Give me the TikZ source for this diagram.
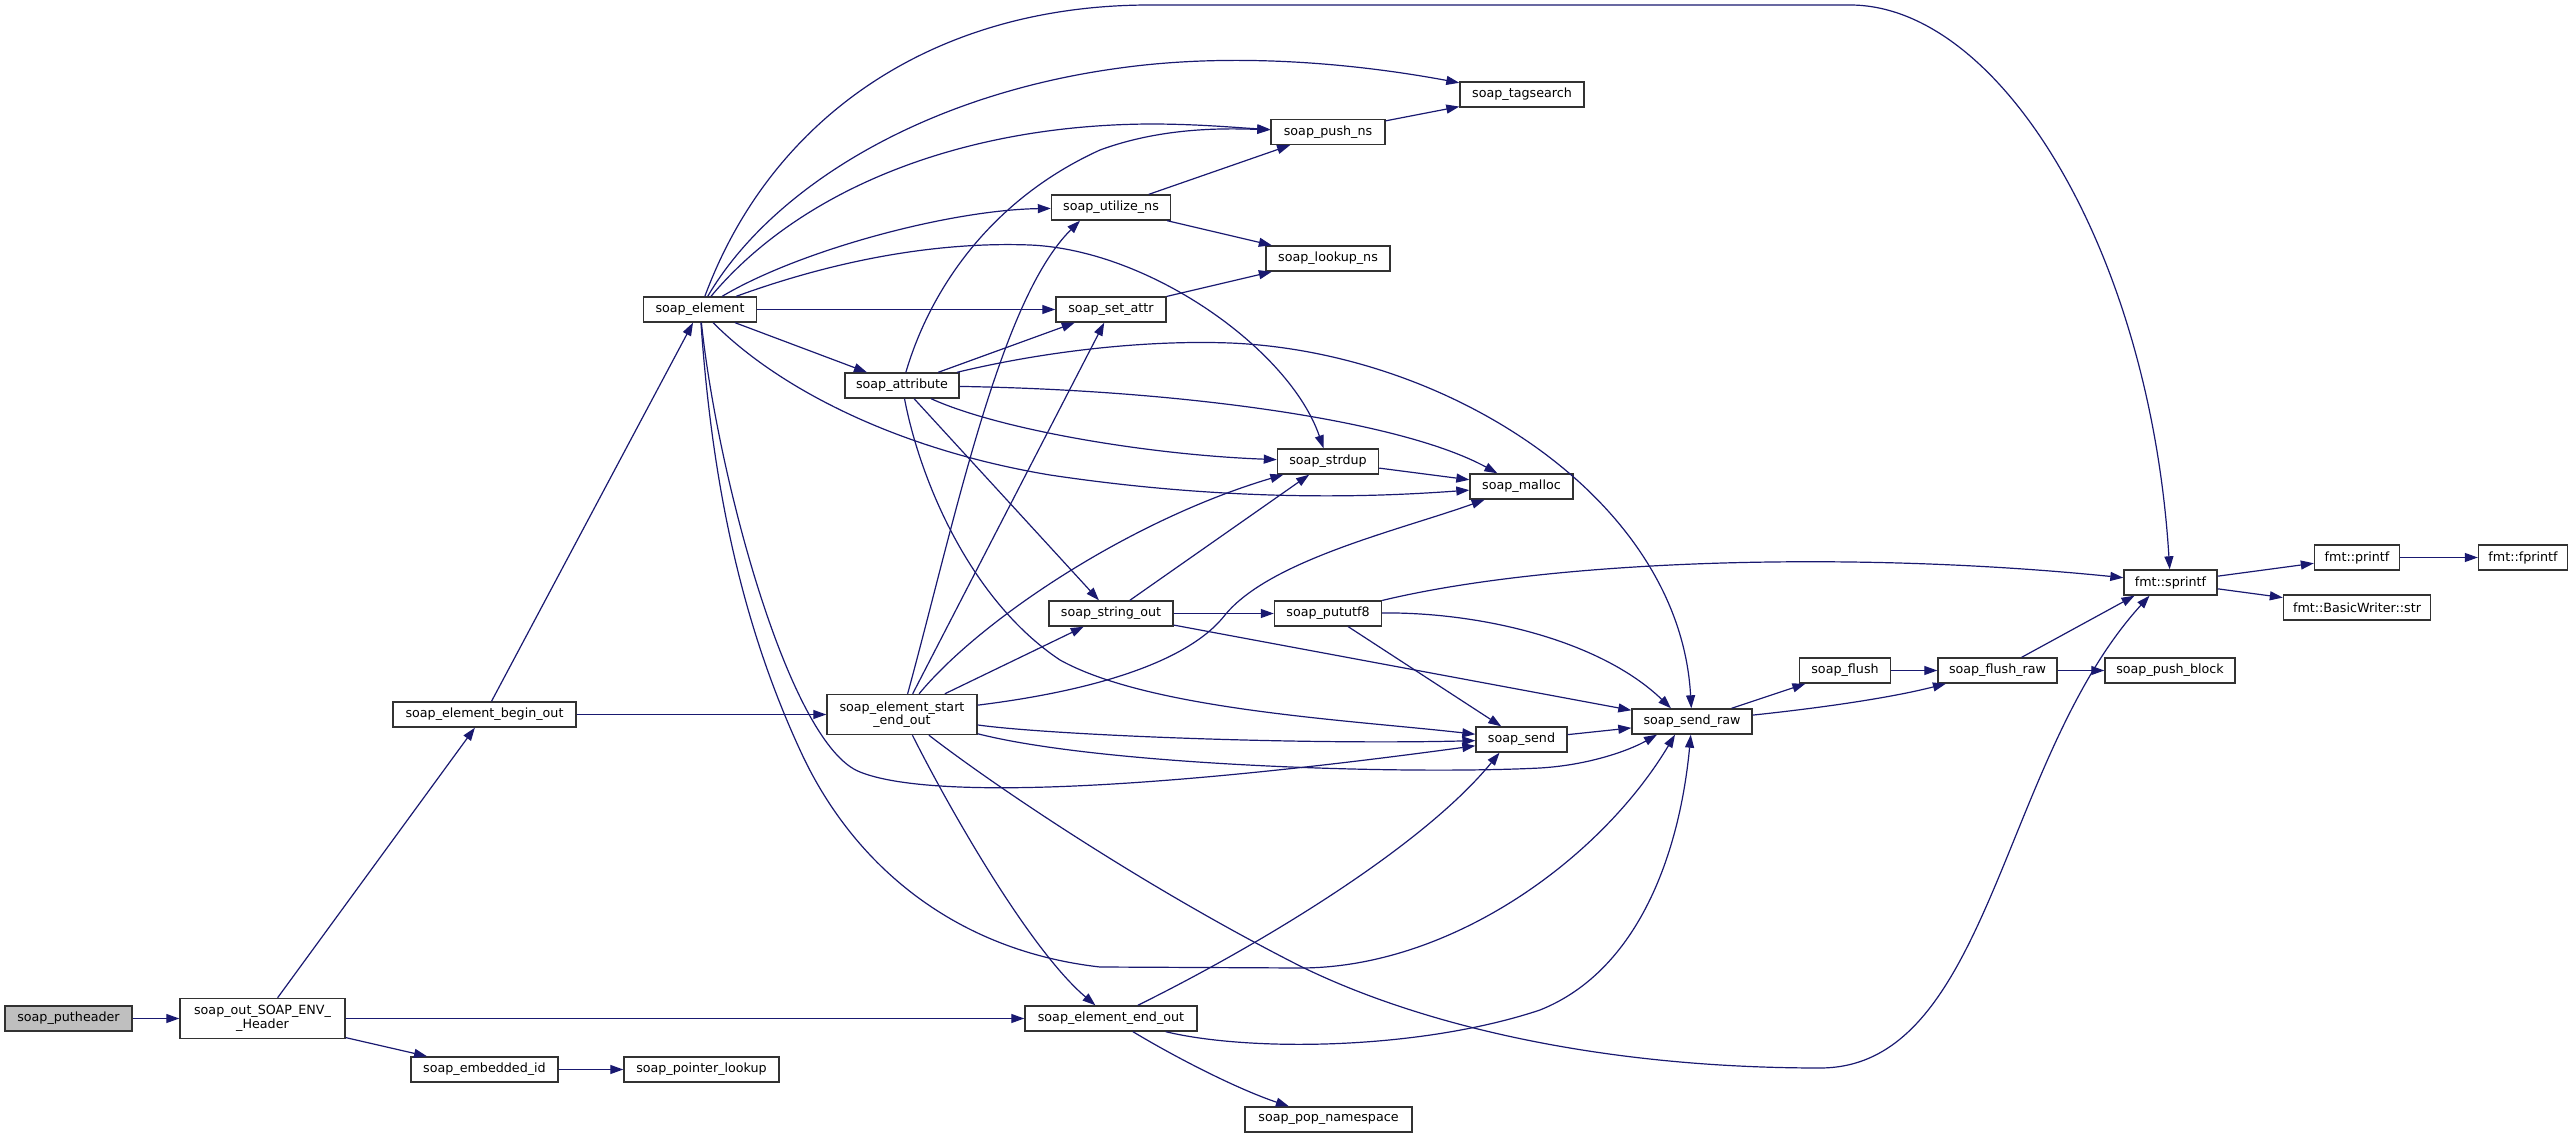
\documentclass[tikz,border=0pt]{standalone}
\usepackage{fontspec}
\setmainfont{DejaVu Sans}
\usepackage{tikz}
\usetikzlibrary{arrows.meta}
\usepackage{xcolor}
\definecolor{edgeblue}{RGB}{25,25,112}
\definecolor{boxline}{RGB}{50,50,50}
\definecolor{rootfill}{RGB}{191,191,191}
\tikzstyle{call} = [->,>={Triangle[length=13pt,width=9pt]},line width=1.2pt,color=edgeblue]
\tikzstyle{fnbox} = [rectangle, draw=boxline, line width=1.4pt, fill=white, minimum height=25pt, inner sep=2pt, align=center, font=\fontsize{12.7}{13.5}\selectfont]

\begin{document}
\begin{tikzpicture}[x=1pt,y=-1pt]
\useasboundingbox (0,0) rectangle (2573,1139);

% caller at left
\node (putheader) [fnbox, fill=rootfill, minimum width=127pt] at (68.5,1018.5) {soap\_putheader};
\node (envheader) [fnbox, minimum width=165pt, minimum height=40pt] at (262.5,1018.5) {soap\_out\_SOAP\_ENV\_\\\_Header};

% element writers
\node (beginout) [fnbox, minimum width=183pt] at (484.5,714.5) {soap\_element\_begin\_out};
\node (embeddedid) [fnbox, minimum width=147pt] at (484.5,1069.5) {soap\_embedded\_id};
\node (element) [fnbox, minimum width=113pt] at (700,309.5) {soap\_element};
\node (ptrlookup) [fnbox, minimum width=155pt] at (701.5,1069.5) {soap\_pointer\_lookup};
\node (attribute) [fnbox, minimum width=114pt] at (902,385.5) {soap\_attribute};
\node (startend) [fnbox, minimum width=150pt, minimum height=40pt] at (902,714.5) {soap\_element\_start\\\_end\_out};

% namespaces, attributes and strings
\node (utilizens) [fnbox, minimum width=119pt] at (1111,207.5) {soap\_utilize\_ns};
\node (setattr) [fnbox, minimum width=110pt] at (1111,309.5) {soap\_set\_attr};
\node (stringout) [fnbox, minimum width=124pt] at (1111,613.5) {soap\_string\_out};
\node (endout) [fnbox, minimum width=172pt] at (1111,1018.5) {soap\_element\_end\_out};
\node (pushns) [fnbox, minimum width=114pt] at (1328,132) {soap\_push\_ns};
\node (lookupns) [fnbox, minimum width=124pt] at (1328,258.5) {soap\_lookup\_ns};
\node (strdup) [fnbox, minimum width=101pt] at (1328,461.5) {soap\_strdup};
\node (pututf) [fnbox, minimum width=107pt] at (1328,613.5) {soap\_pututf8};
\node (popns) [fnbox, minimum width=167pt] at (1328.5,1119.5) {soap\_pop\_namespace};
\node (tagsearch) [fnbox, minimum width=124pt] at (1522,94.5) {soap\_tagsearch};
\node (malloc) [fnbox, minimum width=103pt] at (1521.5,486.5) {soap\_malloc};
\node (send) [fnbox, minimum width=91pt] at (1521.5,739.5) {soap\_send};

% output chain
\node (sendraw) [fnbox, minimum width=120pt] at (1692,721.5) {soap\_send\_raw};
\node (flush) [fnbox, minimum width=91pt] at (1845,670.5) {soap\_flush};
\node (flushraw) [fnbox, minimum width=119pt] at (1997.5,670.5) {soap\_flush\_raw};
\node (pushblock) [fnbox, minimum width=130pt] at (2170,670.5) {soap\_push\_block};
\node (sprintf) [fnbox, minimum width=93pt] at (2170.5,582.5) {fmt::sprintf};
\node (printf) [fnbox, minimum width=85pt] at (2357,557.5) {fmt::printf};
\node (bwstr) [fnbox, minimum width=147pt] at (2357,607.5) {fmt::BasicWriter::str};
\node (fprintf) [fnbox, minimum width=89pt] at (2523,557.5) {fmt::fprintf};

% top level calls
\draw[call] (putheader) -- (envheader);
\draw[call] (envheader) -- (beginout);
\draw[call] (envheader) -- (endout);
\draw[call] (envheader) -- (embeddedid);
\draw[call] (embeddedid) -- (ptrlookup);
\draw[call] (beginout) -- (element);
\draw[call] (beginout) -- (startend);

% soap_element
\draw[call] (element) .. controls (770,120) and (930,5) .. (1150,5) -- (1850,5) .. controls (2000,5) and (2150,250) .. (sprintf);
\draw[call] (element) .. controls (770,190) and (920,95) .. (1120,68) .. controls (1250,50) and (1380,68) .. (tagsearch);
\draw[call] (element) .. controls (800,190) and (960,125) .. (1150,124) .. controls (1200,124) and (1240,128) .. (pushns);
\draw[call] (element) .. controls (800,250) and (950,210) .. (utilizens);
\draw[call] (element) .. controls (850,255) and (950,242) .. (1030,245) .. controls (1150,250) and (1290,350) .. (strdup);
\draw[call] (element) -- (setattr);
\draw[call] (element) -- (attribute);
\draw[call] (element) .. controls (780,390) and (900,450) .. (1050,475) .. controls (1250,505) and (1400,495) .. (malloc);
\draw[call] (element) .. controls (718,480) and (790,745) .. (860,772) .. controls (930,800) and (1150,790) .. (send);
\draw[call] (element) .. controls (712,480) and (740,620) .. (800,750) .. controls (850,860) and (950,950) .. (1100,967) -- (1300,968) .. controls (1450,968) and (1600,860) .. ([xshift=-17pt]sendraw.south);

% soap_attribute
\draw[call] (attribute) .. controls (930,290) and (990,200) .. (1100,150) .. controls (1160,128) and (1220,128) .. (pushns);
\draw[call] (attribute) -- (setattr);
\draw[call] (attribute) .. controls (1050,350) and (1150,340) .. (1230,343) .. controls (1450,352) and (1680,500) .. (sendraw);
\draw[call] (attribute) .. controls (1180,390) and (1400,420) .. (malloc);
\draw[call] (attribute) .. controls (1000,430) and (1150,455) .. (strdup);
\draw[call] (attribute) .. controls (920,480) and (970,600) .. (1060,660) .. controls (1150,710) and (1350,720) .. (send);
\draw[call] (attribute) -- (stringout);

% soap_element_start_end_out
\draw[call] (startend) .. controls (955,520) and (1000,300) .. ([xshift=-31pt]utilizens.south);
\draw[call] (startend) -- (setattr);
\draw[call] (startend) .. controls (980,620) and (1130,520) .. (strdup);
\draw[call] (startend) -- (stringout);
\draw[call] (startend) .. controls (1100,690) and (1190,660) .. (1225,615) .. controls (1270,560) and (1400,530) .. (malloc);
\draw[call] (startend) .. controls (1050,735) and (1300,745) .. (send);
\draw[call] (startend) .. controls (1100,765) and (1400,775) .. (1540,768) .. controls (1590,765) and (1630,750) .. ([xshift=-35pt]sendraw.south);
\draw[call] (startend) .. controls (950,810) and (1030,950) .. (endout);
\draw[call] (startend) .. controls (1000,790) and (1150,890) .. (1300,966) .. controls (1420,1025) and (1600,1068) .. (1820,1068) .. controls (1990,1068) and (2000,760) .. ([xshift=-21pt]sprintf.south);

% soap_element_end_out
\draw[call] (endout) .. controls (1250,950) and (1420,850) .. ([xshift=-22pt]send.south);
\draw[call] (endout) .. controls (1250,1052) and (1420,1050) .. (1540,1010) .. controls (1640,970) and (1680,850) .. (sendraw);
\draw[call] (endout) .. controls (1180,1060) and (1240,1090) .. (popns);

% the rest
\draw[call] (utilizens) -- (pushns);
\draw[call] (utilizens) -- (lookupns);
\draw[call] (setattr) -- (lookupns);
\draw[call] (pushns) -- (tagsearch);
\draw[call] (strdup) -- (malloc);
\draw[call] (stringout) -- (strdup);
\draw[call] (stringout) -- (pututf);
\draw[call] (stringout) -- (sendraw);
\draw[call] (pututf) .. controls (1550,560) and (1850,550) .. (sprintf);
\draw[call] (pututf) .. controls (1480,612) and (1600,640) .. ([xshift=-21pt]sendraw.north);
\draw[call] (pututf) -- (send);
\draw[call] (send) -- (sendraw);
\draw[call] (sendraw) -- (flush);
\draw[call] (sendraw) .. controls (1820,708) and (1890,698) .. (flushraw);
\draw[call] (flush) -- (flushraw);
\draw[call] (flushraw) -- ([xshift=-36pt]sprintf.south);
\draw[call] (flushraw) -- (pushblock);
\draw[call] (sprintf) -- (printf);
\draw[call] (sprintf) -- (bwstr);
\draw[call] (printf) -- (fprintf);
\end{tikzpicture}
\end{document}
